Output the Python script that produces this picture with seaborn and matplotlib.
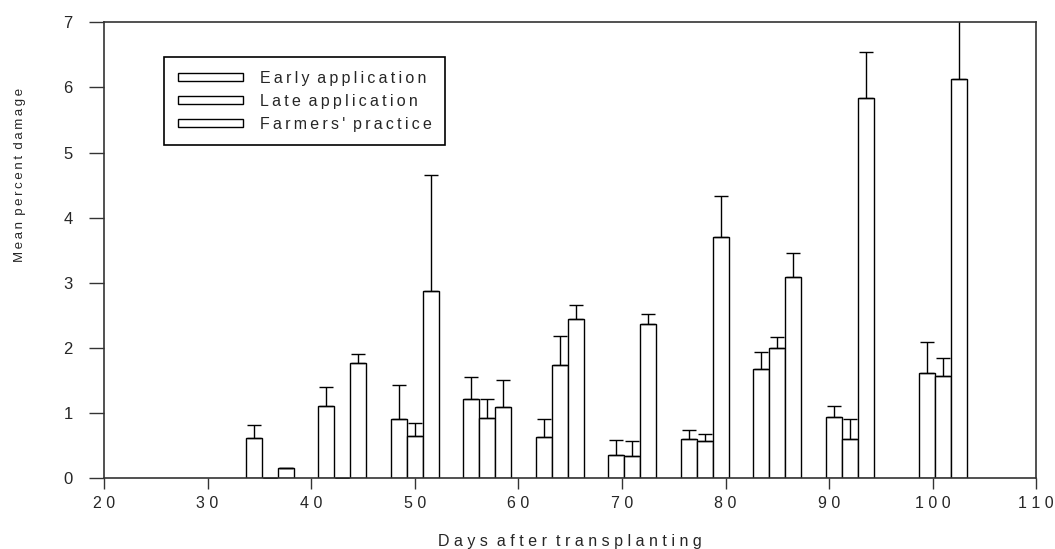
import numpy as np
import pandas as pd
import seaborn as sns
import matplotlib.pyplot as plt

# sampling days (centre of each group of three bars)
days = [36, 43, 50, 57, 64, 71, 78, 85, 92, 101]
treatments = ["Early application", "Late application", "Farmers' practice"]

# mean percent damage and the upper error (SE) for each treatment
early = [0.62, 1.11, 0.90, 1.215, 0.63, 0.355, 0.605, 1.675, 0.93, 1.62]
early_se = [0.19, 0.29, 0.53, 0.335, 0.28, 0.23, 0.125, 0.265, 0.18, 0.475]
late = [0.0, 0.0, 0.65, 0.92, 1.73, 0.345, 0.565, 1.99, 0.605, 1.56]
late_se = [0.0, 0.0, 0.20, 0.29, 0.45, 0.23, 0.115, 0.18, 0.295, 0.28]
farmers = [0.15, 1.77, 2.87, 1.09, 2.45, 2.36, 3.70, 3.08, 5.84, 6.13]
farmers_se = [0.0, 0.13, 1.79, 0.41, 0.21, 0.16, 0.63, 0.37, 0.71, 1.2]

x_ticks = [20, 30, 40, 50, 60, 70, 80, 90, 100, 110]
y_ticks = [0, 1, 2, 3, 4, 5, 6, 7]

sns.set_style("ticks")
plt.rcParams['font.family'] = ['Liberation Sans', 'DejaVu Sans']

THIN = '\u2009'


def spaced(text, gap=THIN):
    return (gap + ' ').join(gap.join(w) for w in text.split(' '))


df = pd.DataFrame({
    'day': days * 3,
    'treatment': np.repeat(treatments, len(days)),
    'damage': early + late + farmers,
})

fig = plt.figure(figsize=(10.55, 5.49), dpi=100)
ax = fig.add_axes([104 / 1055, 1 - 478 / 549, 932.3 / 1055, 455.7 / 549])

sns.barplot(data=df, x='day', y='damage', hue='treatment',
            hue_order=treatments, native_scale=True, width=0.662, gap=0,
            errorbar=None, palette=['white'] * 3, saturation=1,
            edgecolor='black', linewidth=1, ax=ax)

for cont, means, errs in zip(ax.containers, [early, late, farmers],
                             [early_se, late_se, farmers_se]):
    xs = [p.get_x() + p.get_width() / 2 for p in cont]
    ax.errorbar(xs, means, yerr=[np.zeros(len(errs)), errs], fmt='none',
                ecolor='black', elinewidth=1, capsize=5.3, capthick=1)

ax.set_xlim(20, 110)
ax.set_ylim(0, 7)
ax.set_xticks(x_ticks, [spaced(str(t), ' ') for t in x_ticks])
ax.set_yticks(y_ticks, [str(t) for t in y_ticks])

for s in ax.spines.values():
    s.set_color('#333333')
    s.set_linewidth(1.2)
ax.tick_params(axis='y', length=10.5, width=1, pad=12, labelsize=12,
               color='#333333')
ax.tick_params(axis='x', length=7.7, width=1, pad=5, labelsize=11.5,
               color='#333333')

ax.set_xlabel(spaced("Days after transplanting", ' '), fontsize=11.5)
ax.xaxis.set_label_coords(0.5, -0.122)
ax.set_ylabel(spaced("Mean percent damage"), fontsize=9.5)
ax.yaxis.set_label_coords(-0.084, 0.665)

handles, labels = ax.get_legend_handles_labels()
leg = ax.legend(handles, [spaced(l) for l in labels], loc='upper left',
                bbox_to_anchor=(164 / 1055, 1 - 57.3 / 549),
                bbox_transform=fig.transFigure, borderaxespad=0,
                frameon=True, fancybox=False, framealpha=1,
                edgecolor='black', fontsize=11.5, handlelength=4.1,
                handleheight=0.42, handletextpad=1.05, labelspacing=0.5,
                borderpad=0.85)
leg.get_frame().set_linewidth(1.2)

fig.savefig('out.png', dpi=100)
